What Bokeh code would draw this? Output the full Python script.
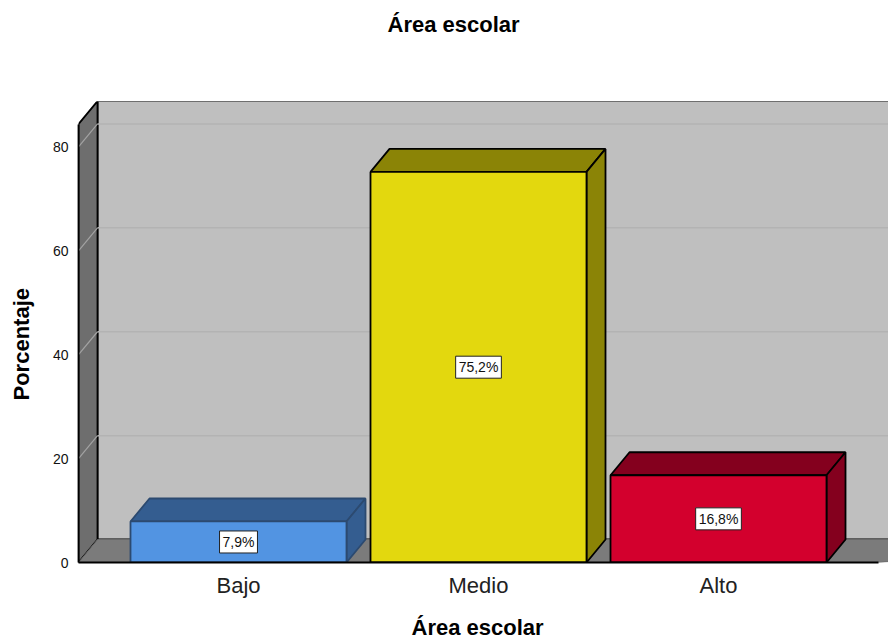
from bokeh.plotting import figure
from bokeh.embed import file_html
from bokeh.resources import INLINE
from bokeh.models import Range1d, FixedTicker, Title
from bokeh.core.properties import value

categories = ["Bajo", "Medio", "Alto"]
percentages = [7.9, 75.2, 16.8]
value_labels = ["7,9%", "75,2%", "16,8%"]
y_ticks = [0, 20, 40, 60, 80]
front_colors = ["#5294e2", "#e3d80e", "#d3002d"]
depth_colors = ["#345d90", "#8b8406", "#84001e"]
edge_colors = ["#2c4a70", "#000000", "#000000"]
chart_title = "Área escolar"
x_title = "Área escolar"
y_title = "Porcentaje"

FONT = "Liberation Sans"
X0, X1, XR = -2 / 3, 8 / 3, 2.7083
Y1, YR = 84.4, 88.75
DX, DY = 19 / 240, 23 / 5.2
W = 0.45

p = figure(width=888, height=639, output_backend="svg", toolbar_location=None,
           x_range=Range1d(X0, XR), y_range=Range1d(0, YR),
           min_border_left=78, min_border_right=0, min_border_top=101, min_border_bottom=77,
           background_fill_color="white", outline_line_color=None)
p.grid.visible = False

# Walls and floor
p.quad(left=[X0 + DX], right=[XR + 1], bottom=[DY], top=[Y1 + DY], fill_color="#bfbfbf", line_color="#000000", line_width=1.8)
p.patch([X0, X0 + DX, X0 + DX, X0], [0, DY, Y1 + DY, Y1], fill_color="#6e6e6e", line_color="#000000", line_width=1.8)
p.patch([X0, X0 + DX, XR + 1, X1], [0, DY, DY, 0], fill_color="#7b7b7b", line_color="#6a6a6a", line_width=1)
for t in y_ticks[1:]:
    p.line([X0 + DX, XR + 1], [t + DY, t + DY], line_color="#b3b3b3", line_width=1.5)
    p.line([X0, X0 + DX], [t, t + DY], line_color="#a3a3a3", line_width=1.2)

# Bars
for i, v in enumerate(percentages):
    l, r = i - W, i + W
    p.patch([l, l + DX, r + DX, r], [v, v + DY, v + DY, v], fill_color=depth_colors[i], line_color=edge_colors[i], line_width=1.8)
    p.patch([r, r + DX, r + DX, r], [0, DY, v + DY, v], fill_color=depth_colors[i], line_color=edge_colors[i], line_width=1.8)
    p.quad(left=[l], right=[r], bottom=[0], top=[v], fill_color=front_colors[i], line_color=edge_colors[i], line_width=1.8)

# Value labels
p.text(x=list(range(3)), y=[v / 2 for v in percentages], text=value_labels,
       text_font=value(FONT), text_font_size="14px", text_color="#111111",
       text_align="center", text_baseline="middle",
       background_fill_color="white", border_line_color="#222222", border_line_width=1,
       padding=3)

# Axes
ya = p.yaxis[0]
ya.ticker = FixedTicker(ticks=y_ticks)
ya.bounds = (0, Y1)
ya.axis_line_color = "#000000"
ya.axis_line_width = 1.8
ya.major_tick_line_color = None
ya.minor_tick_line_color = None
ya.major_label_standoff = 4
ya.major_label_text_font = FONT
ya.major_label_text_font_size = "14px"
ya.major_label_text_color = "#111111"

xa = p.xaxis[0]
xa.ticker = FixedTicker(ticks=[0, 1, 2])
xa.major_label_overrides = {i: c for i, c in enumerate(categories)}
xa.bounds = (X0, X1)
xa.axis_line_color = "#000000"
xa.axis_line_width = 1.8
xa.major_tick_line_color = None
xa.minor_tick_line_color = None
xa.major_label_standoff = 4
xa.major_label_text_font = FONT
xa.major_label_text_font_size = "22px"
xa.major_label_text_color = "#222222"
xa.major_label_text_line_height = 1.0


# Titles: a thin blank title sets the gap, the real title sits beyond it
def spacer(gap):
    return Title(text=" ", text_font=FONT, text_font_size="1px", standoff=gap)


def titled(text, offset):
    return Title(text=text, text_font=FONT, text_font_size="22px", text_font_style="bold",
                 text_color="#000000", align="left", offset=offset, standoff=0)


p.add_layout(spacer(62), "above")
p.add_layout(titled(chart_title, 309), "above")
p.add_layout(spacer(9), "below")
p.add_layout(titled(x_title, 333), "below")
p.add_layout(spacer(13), "left")
p.add_layout(titled(y_title, 162), "left")

open("out.html", "w").write(file_html(p, INLINE))
